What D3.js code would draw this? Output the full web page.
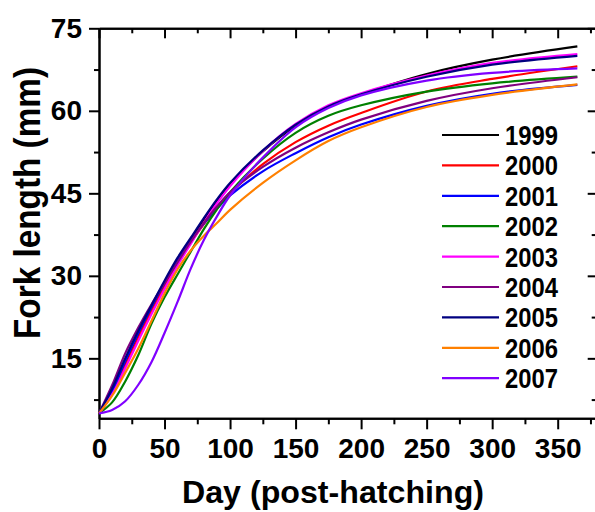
<!DOCTYPE html>
<html>
<head>
<meta charset="utf-8">
<script src="https://cdn.jsdelivr.net/npm/d3@7.9.0/dist/d3.min.js"></script>
<style>
  body { margin: 0; background: #fff; }
  svg { display: block; font-family: "Liberation Sans", Arial, sans-serif; font-weight: bold; }
  .axis path, .axis line { stroke: #000; stroke-width: 2; }
  .axis text { font-size: 28px; font-weight: bold; fill: #000; }
</style>
</head>
<body>
<svg id="chart" width="595" height="512"></svg>
<script>
const days = [0, 10, 20, 30, 40, 50, 60, 70, 80, 90, 100, 125, 150, 175, 200, 250, 300, 365];

// fork length (mm) per year
const fl1999 = [5.0, 8.7, 13.8, 19.0, 24.0, 28.4, 32.6, 36.5, 40.2, 43.6, 46.6, 52.6, 57.3, 60.8, 63.0, 66.7, 69.3, 71.7];
const fl2000 = [5.0, 8.6, 13.6, 18.7, 23.5, 28.0, 32.2, 36.0, 39.4, 42.4, 45.0, 50.3, 54.3, 57.3, 59.6, 63.5, 65.8, 68.1];
const fl2001 = [5.0, 9.0, 14.5, 19.6, 24.3, 28.7, 32.7, 36.3, 39.5, 42.2, 44.6, 49.0, 52.3, 55.2, 57.5, 60.9, 63.1, 64.7];
const fl2002 = [5.0, 7.0, 10.8, 15.6, 21.3, 26.1, 30.3, 34.4, 38.5, 42.1, 45.2, 51.3, 56.0, 59.1, 61.0, 63.5, 65.0, 66.2];
const fl2003 = [5.0, 8.4, 13.2, 18.2, 23.0, 27.6, 31.9, 35.8, 39.7, 43.2, 46.3, 52.7, 57.6, 61.0, 63.2, 66.4, 68.7, 70.3];
const fl2004 = [5.0, 10.1, 15.9, 20.6, 24.8, 28.7, 32.5, 36.2, 39.6, 42.6, 45.2, 49.8, 53.3, 56.1, 58.4, 61.8, 64.1, 66.1];
const fl2005 = [5.0, 9.5, 15.0, 20.0, 24.6, 29.1, 33.3, 36.9, 40.5, 43.9, 46.9, 52.8, 57.5, 60.8, 63.0, 66.2, 68.4, 70.0];
const fl2006 = [5.0, 8.2, 12.4, 16.8, 21.8, 26.8, 31.2, 34.6, 37.3, 39.6, 42.0, 46.9, 51.0, 54.5, 57.0, 60.7, 62.9, 64.8];
const fl2007 = [5.0, 5.6, 7.2, 10.2, 14.3, 19.6, 25.3, 31.3, 36.5, 40.8, 44.6, 51.5, 57.0, 60.5, 62.8, 65.5, 66.9, 67.7];

const years = ['1999', '2000', '2001', '2002', '2003', '2004', '2005', '2006', '2007'];
const colors = ['#000000', '#ff0000', '#0000ff', '#008000', '#ff00ff', '#800080', '#000080', '#ff8000', '#8000ff'];
const series = [fl1999, fl2000, fl2001, fl2002, fl2003, fl2004, fl2005, fl2006, fl2007];

const xMajor = [0, 50, 100, 150, 200, 250, 300, 350];
const xMinor = [25, 75, 125, 175, 225, 275, 325, 375];
const yMajor = [15, 30, 45, 60, 75];
const yMinor = [7.5, 22.5, 37.5, 52.5, 67.5];

const svg = d3.select('#chart');
const x = d3.scaleLinear().domain([0, 379]).range([99, 595.7]);
const y = d3.scaleLinear().domain([4.1, 75]).range([418.3, 28.3]);

// axes: bottom and left carry labels, top and right only ticks pointing in
svg.append('g').attr('class', 'axis').attr('transform', `translate(0,${y(4.1)})`)
  .call(d3.axisBottom(x).tickValues(xMajor).tickSize(11).tickPadding(9).tickSizeOuter(0));
svg.append('g').attr('class', 'axis').attr('transform', `translate(0,${y(4.1)})`)
  .call(d3.axisBottom(x).tickValues(xMinor).tickSize(6).tickFormat('').tickSizeOuter(0));

svg.append('g').attr('class', 'axis').attr('transform', `translate(${x(0)},0)`)
  .call(d3.axisLeft(y).tickValues(yMajor).tickSize(10).tickPadding(7).tickSizeOuter(0));
svg.append('g').attr('class', 'axis').attr('transform', `translate(${x(0)},0)`)
  .call(d3.axisLeft(y).tickValues(yMinor).tickSize(5).tickFormat('').tickSizeOuter(0));

svg.append('g').attr('class', 'axis').attr('transform', `translate(0,${y(75)})`)
  .call(d3.axisTop(x).tickValues(xMajor).tickSize(-10).tickFormat('').tickSizeOuter(0));
svg.append('g').attr('class', 'axis').attr('transform', `translate(0,${y(75)})`)
  .call(d3.axisTop(x).tickValues(xMinor).tickSize(-5).tickFormat('').tickSizeOuter(0));

svg.append('g').attr('class', 'axis').attr('transform', `translate(${x(379)},0)`)
  .call(d3.axisRight(y).tickValues(yMajor).tickSize(-8).tickFormat('').tickSizeOuter(0));
svg.append('g').attr('class', 'axis').attr('transform', `translate(${x(379)},0)`)
  .call(d3.axisRight(y).tickValues(yMinor).tickSize(-4).tickFormat('').tickSizeOuter(0));

// curves
const line = d3.line()
  .x((d, i) => x(days[i]))
  .y(d => y(d))
  .curve(d3.curveCatmullRom.alpha(0.5));

series.forEach((s, idx) => {
  svg.append('path')
    .attr('d', line(s))
    .attr('fill', 'none')
    .attr('stroke', colors[idx])
    .attr('stroke-width', 2.2);
});

// legend
const legend = svg.append('g');
years.forEach((yr, idx) => {
  const ly = 135 + idx * 30.4;
  legend.append('line')
    .attr('x1', 442).attr('x2', 499)
    .attr('y1', ly).attr('y2', ly)
    .attr('stroke', colors[idx])
    .attr('stroke-width', 2.2);
  legend.append('text')
    .attr('x', 505).attr('y', ly + 10)
    .attr('font-size', 27)
    .attr('textLength', 53)
    .attr('lengthAdjust', 'spacingAndGlyphs')
    .text(yr);
});

// axis titles
svg.append('text')
  .attr('x', 333).attr('y', 503)
  .attr('text-anchor', 'middle')
  .attr('font-size', 32)
  .attr('textLength', 302)
  .attr('lengthAdjust', 'spacingAndGlyphs')
  .text('Day (post-hatching)');

svg.append('text')
  .attr('transform', 'translate(40,203) rotate(-90)')
  .attr('text-anchor', 'middle')
  .attr('font-size', 36)
  .attr('textLength', 272)
  .attr('lengthAdjust', 'spacingAndGlyphs')
  .text('Fork length (mm)');
</script>
</body>
</html>
